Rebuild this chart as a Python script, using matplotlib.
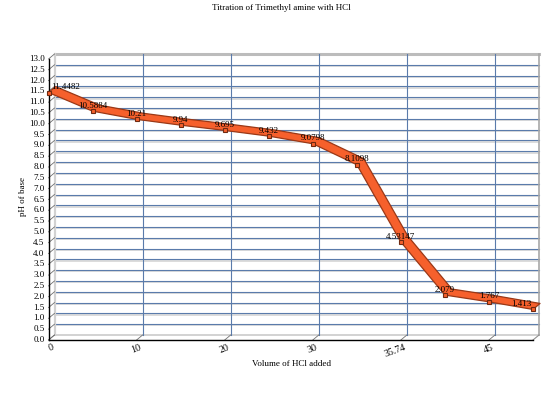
import numpy as np
import matplotlib
matplotlib.use("Agg")
import matplotlib.pyplot as plt
from matplotlib.patches import Polygon
from matplotlib.transforms import IdentityTransform, offset_copy

# data
volumes = ["0", "5", "10", "15", "20", "25", "30", "35", "35.74", "40", "45", "50"]
ph_values = [11.4482, 10.5884, 10.21, 9.94, 9.695, 9.432, 9.0798, 8.1098,
             4.53147, 2.079, 1.767, 1.413]
point_labels = ["11.4482", "10.5884", "10.21", "9.94", "9.695", "9.432",
                "9.0798", "8.1098", "4.53147", "2.079", "1.767", "1.413"]
y_ticks = np.arange(0, 13.01, 0.5)

plt.rcParams['font.family'] = ['Liberation Serif', 'DejaVu Serif']
FS = 6.5
GRID_BLUE = '#5a7bab'
SHADOW = '#d2d2d2'
ORANGE = '#f6602c'
EDGE = '#9a3816'
DX, DY = 6, 5  # depth offset of the back wall, pixels

fig = plt.figure(figsize=(5.6, 4.12), dpi=100)
ax = fig.add_axes([48.5 / 560, 72 / 412, (533 - 48.5) / 560, 281 / 412])
ax.set_xlim(0, len(volumes) - 1)
ax.set_ylim(0, 13)
ax.axis('off')

idx = np.arange(len(volumes))
xmax = idx[-1]
back = offset_copy(ax.transData, fig=fig, x=DX, y=DY, units='dots')
back_shadow = offset_copy(ax.transData, fig=fig, x=DX, y=DY - 1.3, units='dots')


def to_px(xs, ys):
    return ax.transData.transform(np.column_stack([xs, ys]))


def depth_line(x, y, **kw):
    p = to_px([x], [y])[0]
    ax.plot([p[0], p[0] + DX], [p[1], p[1] + DY], transform=IdentityTransform(),
            clip_on=False, **kw)


# back wall: horizontal grid
for y in y_ticks:
    if 0 < y < 13:
        ax.plot([0, xmax], [y, y], transform=back_shadow, color=SHADOW, lw=1.1,
                clip_on=False, zorder=1)
        ax.plot([0, xmax], [y, y], transform=back, color=GRID_BLUE, lw=0.8,
                clip_on=False, zorder=2)
ax.plot([0, xmax], [13, 13], transform=back, color='#bcbcbc', lw=2.2,
        clip_on=False, zorder=2)
ax.plot([0, xmax], [0, 0], transform=back, color=SHADOW, lw=1.4,
        clip_on=False, zorder=2)

# back wall: vertical grid at labelled categories
for i in idx[2:-1:2]:
    ax.plot([i, i], [0, 13], transform=back, color=GRID_BLUE, lw=0.8,
            clip_on=False, zorder=2)
ax.plot([0, 0], [0, 13], transform=back, color=SHADOW, lw=1.6, clip_on=False, zorder=2)
ax.plot([xmax, xmax], [0, 13], transform=back, color='#a8a8a8', lw=1.2,
        clip_on=False, zorder=2)

# y ticks and labels
for y in y_ticks:
    depth_line(0, y, color='#707070', lw=0.6, zorder=3)
    p = to_px([0], [y])[0]
    ax.text(p[0] - 4, p[1], f"{y:.1f}", transform=IdentityTransform(),
            ha='right', va='center', fontsize=FS)

# x ticks and labels
for i in idx[::2]:
    depth_line(i, 0, color='#707070', lw=0.6, zorder=3)
    p = to_px([i], [0])[0]
    ax.text(p[0] + 3, p[1] - 3, volumes[i], transform=IdentityTransform(),
            ha='right', va='top', rotation=20, rotation_mode='anchor', fontsize=7.2)
depth_line(xmax, 0, color='#909090', lw=0.8, zorder=3)

# front axis lines
ax.plot([0, 0], [0, 13], color='black', lw=1.0, clip_on=False, zorder=4)
ax.plot([0, xmax], [0, 0], color='black', lw=1.0, clip_on=False, zorder=4)

# 3d ribbon for the titration curve
front = to_px(idx, ph_values)
rear = front + np.array([7, 6])
ribbon = Polygon(np.vstack([front, rear[::-1]]), closed=True,
                 transform=IdentityTransform(), facecolor=ORANGE, edgecolor=EDGE,
                 lw=0.9, joinstyle='round', zorder=5, clip_on=False)
ax.add_patch(ribbon)
ax.plot(idx, ph_values, 's', ms=3.2, mfc=ORANGE, mec='#6e2a12', mew=0.8,
        clip_on=False, zorder=6)

# value labels
for i, (y, lab) in enumerate(zip(ph_values, point_labels)):
    ha, dx = 'center', 0
    if i == 0:
        ha, dx = 'left', 3
    elif i == len(idx) - 1:
        ha, dx = 'right', -2
    ax.annotate(lab, (i, y), xytext=(dx, 5.5), textcoords='offset pixels',
                ha=ha, va='center', fontsize=FS, zorder=7)

fig.text(281 / 560, 1 - 8 / 412, "Titration of Trimethyl amine with HCl",
         ha='center', va='center', fontsize=FS)
fig.text(291 / 560, 1 - 364 / 412, "Volume of HCl added",
         ha='center', va='center', fontsize=FS)
fig.text(23 / 560, 1 - 197 / 412, "pH of base", rotation=90,
         ha='center', va='center', fontsize=FS)

fig.savefig("out.png", dpi=100)
